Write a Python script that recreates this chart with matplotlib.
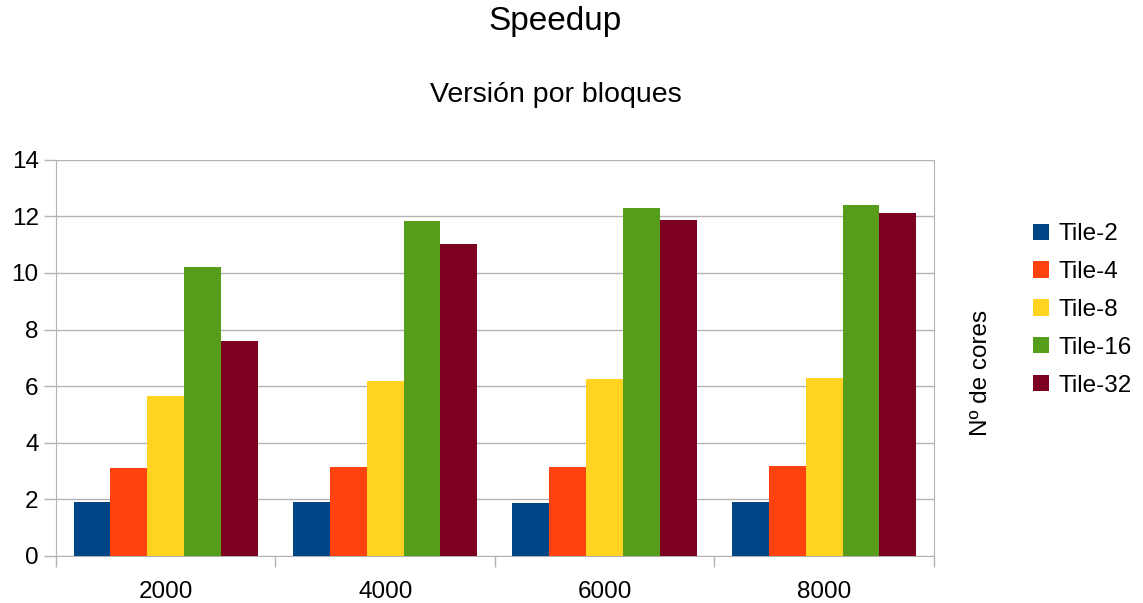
import numpy as np
import matplotlib.pyplot as plt

plt.rcParams['font.family'] = ['Liberation Sans', 'DejaVu Sans']

sizes = ['2000', '4000', '6000', '8000']
series = ['Tile-2', 'Tile-4', 'Tile-8', 'Tile-16', 'Tile-32']
tile_2 = [1.91, 1.91, 1.87, 1.91]
tile_4 = [3.10, 3.14, 3.14, 3.18]
tile_8 = [5.65, 6.18, 6.25, 6.29]
tile_16 = [10.21, 11.83, 12.29, 12.40]
tile_32 = [7.59, 11.01, 11.87, 12.12]
colors = ['#004586', '#ff420e', '#ffd320', '#579d1c', '#7e0021']

values = [tile_2, tile_4, tile_8, tile_16, tile_32]

fig = plt.figure(figsize=(11.43, 6.03), dpi=100)
ax = fig.add_axes([0.049, 0.078, 0.768, 0.657])

x = np.arange(len(sizes))
w = 0.168
for i, (name, vals, c) in enumerate(zip(series, values, colors)):
    ax.bar(x + (i - 2) * w, vals, width=w, color=c, label=name, zorder=3)

ax.set_xlim(-0.5, len(sizes) - 0.5)
ax.set_ylim(0, 14)
ax.set_yticks(range(0, 15, 2))
ax.yaxis.grid(True, color='#b3b3b3', linewidth=1, zorder=0)

# category separators below the axis, labels centred between them
ax.set_xticks(np.arange(-0.5, len(sizes)), labels=[''] * (len(sizes) + 1))
ax.set_xticks(x, labels=sizes, minor=True)
ax.tick_params(axis='x', which='major', length=8, color='#b3b3b3', width=1)
ax.tick_params(axis='x', which='minor', length=0, labelsize=17.5, pad=18)
ax.tick_params(axis='y', length=8.5, color='#b3b3b3', width=1, labelsize=17.5, pad=4)

for s in ['left', 'right', 'bottom']:
    ax.spines[s].set_color('#b3b3b3')
ax.spines['top'].set_visible(False)

fig.text(0.486, 0.964, 'Speedup', ha='center', va='center', fontsize=24)
fig.text(0.486, 0.842, 'Versión por bloques', ha='center', va='center', fontsize=20.5)
fig.text(0.858, 0.381, 'Nº de cores', rotation=90, ha='center', va='center', fontsize=17.5)

fig.legend(loc='center left', bbox_to_anchor=(0.904, 0.486), frameon=False,
           fontsize=17.5, handlelength=0.65, handleheight=0.65, handletextpad=0.4,
           labelspacing=0.65, borderpad=0, borderaxespad=0)

fig.savefig('out.png', dpi=100)
